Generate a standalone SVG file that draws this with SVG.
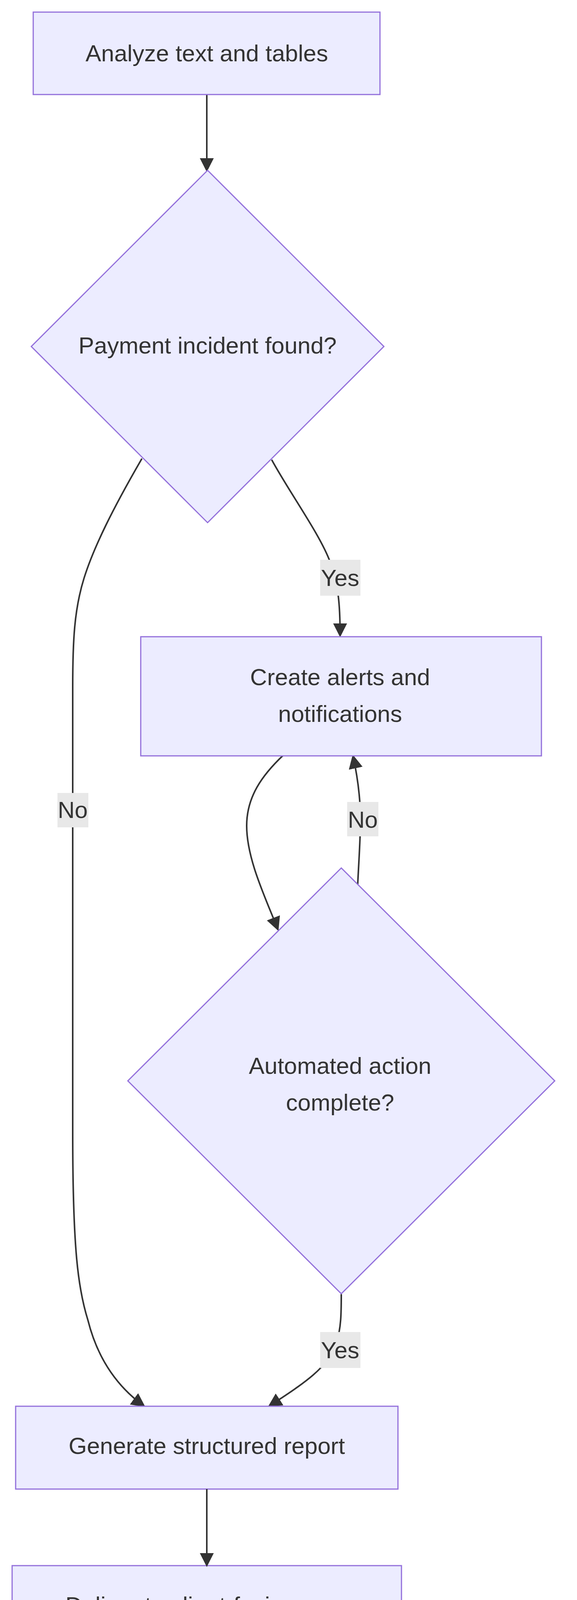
<svg xmlns="http://www.w3.org/2000/svg" width="1476" height="4348" viewBox="0 0 1476 4348">
<style>
.n{fill:#ECECFF;stroke:#9370DB;stroke-width:3}
.t{font-family:"Liberation Sans",Arial,sans-serif;font-size:60px;fill:#333;text-anchor:middle;dominant-baseline:central}
.e{fill:none;stroke:#333;stroke-width:4}
.lb{fill:#e8e8e8}
</style>
<defs><marker id="a" viewBox="0 0 10 10" refX="9" refY="5" markerWidth="8" markerHeight="8" markerUnits="userSpaceOnUse" orient="auto"><path d="M0,0L10,5L0,10z" fill="#333" transform="scale(1)"/></marker>
<marker id="ar" viewBox="0 0 10 10" refX="9" refY="5" markerWidth="9" markerHeight="9" orient="auto"><path d="M0,0L10,5L0,10z" fill="#333"/></marker></defs>
<rect width="1476" height="4348" fill="#fff"/>
<g id="edges">
<path class="e" d="M529,242L529,437" marker-end="url(#ar)"/>
<path class="e" d="M695,1177C740,1260 820,1370 845,1440C865,1500 870,1540 870,1628" marker-end="url(#ar)"/>
<path class="e" d="M363,1174C290,1300 240,1400 215,1480C190,1560 186,1640 186,1760L186,2900C186,3200 200,3300 225,3380C250,3480 300,3550 369,3600" marker-end="url(#ar)"/>
<path class="e" d="M725,1933C670,1985 631,2040 631,2114C631,2200 680,2300 711,2380" marker-end="url(#ar)"/>
<path class="e" d="M915,2265C918,2200 922,2150 922,2098C922,2040 915,1990 903,1935" marker-end="url(#ar)"/>
<path class="e" d="M873,3313C873,3360 873,3400 860,3440C840,3500 780,3540 688,3600" marker-end="url(#ar)"/>
<rect class="lb" x="819" y="1433" width="103" height="92"/><text class="t" x="870" y="1479">Yes</text>
<rect class="lb" x="147" y="2030" width="79" height="88"/><text class="t" x="186" y="2073">No</text>
<rect class="lb" x="888" y="2053" width="80" height="88"/><text class="t" x="928" y="2098">No</text>
<rect class="lb" x="819" y="3410" width="103" height="92"/><text class="t" x="870" y="3456">Yes</text>
</g>
<g id="n1"><rect class="n" x="85" y="31" width="887" height="211"/><text class="t" x="529" y="136">Analyze text and tables</text></g>
<g id="n2"><polygon class="n" points="531,436 982,887 531,1338 80,887"/><text class="t" x="531" y="884">Payment incident found?</text></g>
<g id="n3"><rect class="n" x="360" y="1630" width="1025" height="305"/><text class="t" x="870" y="1733">Create alerts and</text><text class="t" x="870" y="1827">notifications</text></g>
<g id="n4"><polygon class="n" points="873,2222 1419,2767 873,3312 327,2767"/><text class="t" x="870" y="2728">Automated action</text><text class="t" x="870" y="2822">complete?</text></g>
<g id="n5"><rect class="n" x="40" y="3600" width="978" height="212"/><text class="t" x="529" y="3701">Generate structured report</text></g>
<g id="n6"><rect class="n" x="31" y="4008" width="996" height="210"/><text class="t" x="529" y="4109">Deliver to client-facing user</text></g>
<g id="edges2"><path class="e" d="M529,3812L529,4008" marker-end="url(#ar)"/></g>
</svg>
